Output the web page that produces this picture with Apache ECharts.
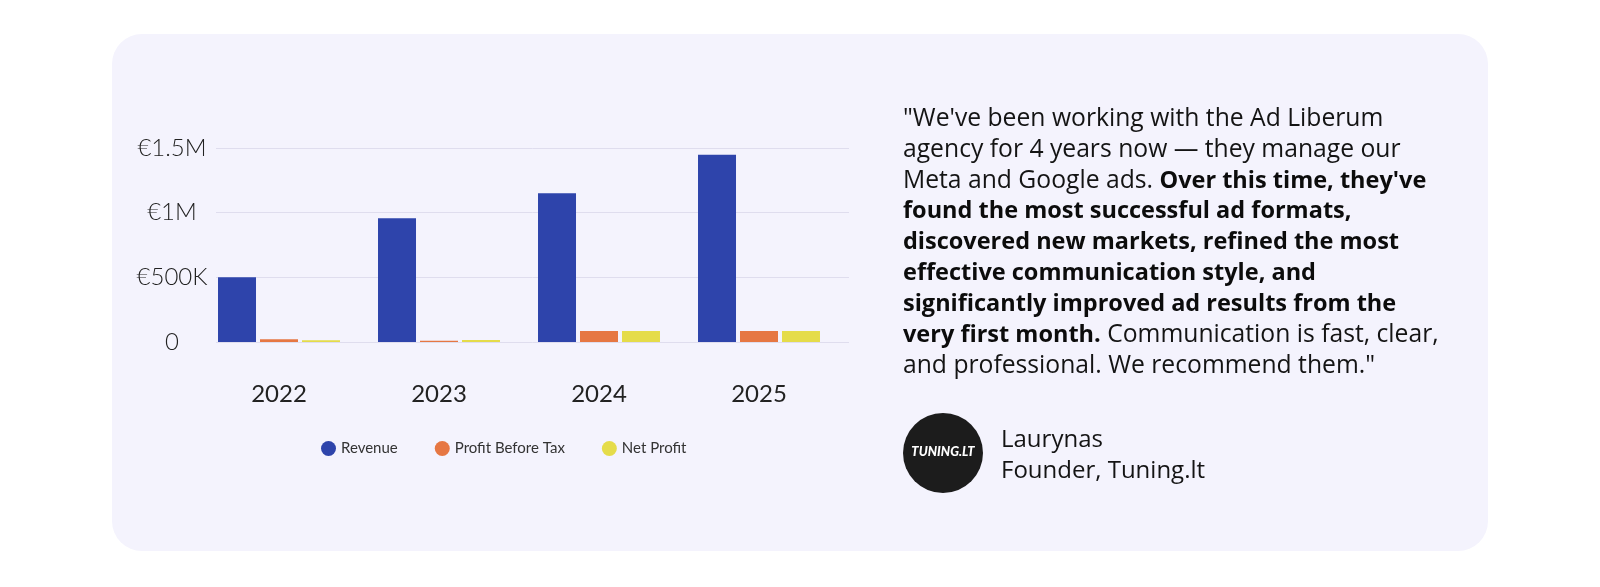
<!DOCTYPE html>
<html>
<head>
<meta charset="utf-8">
<script src="https://cdn.jsdelivr.net/npm/echarts@6/dist/echarts.min.js"></script>
<style>
  html, body { margin: 0; padding: 0; background: #ffffff; }
  #chart { width: 1600px; height: 587px; }
</style>
</head>
<body>
<div id="chart"></div>
<script>
const categories = ['2022', '2023', '2024', '2025'];
const revenue = [500000, 957000, 1150000, 1448000];
const profitBeforeTax = [21000, 9000, 85000, 85000];
const netProfit = [13000, 15000, 85000, 85000];
const seriesNames = ['Revenue', 'Profit Before Tax', 'Net Profit'];
const seriesColors = ['#2E44AB', '#E67743', '#E5DC4A'];
const yTickValues = [0, 500000, 1000000, 1500000];
const yTickLabels = ['0', '€500K', '€1M', '€1.5M'];

const quoteLines = [
  [['n', '"We\'ve been working with the Ad Liberum']],
  [['n', 'agency for 4 years now — they manage our']],
  [['n', 'Meta and Google ads. '], ['b', 'Over this time, they\'ve']],
  [['b', 'found the most successful ad formats,']],
  [['b', 'discovered new markets, refined the most']],
  [['b', 'effective communication style, and']],
  [['b', 'significantly improved ad results from the']],
  [['b', 'very first month.'], ['n', ' Communication is fast, clear,']],
  [['n', 'and professional. We recommend them."']]
];
const authorName = 'Laurynas';
const authorRole = 'Founder, Tuning.lt';
const logoText = 'TUNING.LT';

const FONT = 'Lato, "Noto Sans", sans-serif';
const QFONT = '"Open Sans", Lato, sans-serif';

const quoteText = quoteLines.map(line =>
  line.map(([k, t]) => '{' + k + '|' + t.replace(/[{}|]/g, '') + '}').join('')
).join('\n');

const chart = echarts.init(document.getElementById('chart'), null, { renderer: 'canvas' });

const axisMin = 0, axisMax = 1500000, axisInterval = 500000;

chart.setOption({
  animation: false,
  textStyle: { fontFamily: FONT },
  graphic: [
    { type: 'rect', z: -100, shape: { x: 112, y: 34, width: 1376, height: 517, r: 30 },
      style: { fill: '#F4F3FD' }, silent: true },
    { type: 'text', x: 903, y: 104, z: 10,
      style: {
        text: quoteText,
        rich: {
          n: { fontFamily: QFONT, fontSize: 24.7, fontWeight: 400, fill: '#141414', lineHeight: 30.8 },
          b: { fontFamily: QFONT, fontSize: 23.5, fontWeight: 700, fill: '#0c0c0c', lineHeight: 30.8 }
        },
        verticalAlign: 'top', align: 'left'
      } },
    { type: 'circle', shape: { cx: 943, cy: 453, r: 40 }, style: { fill: '#1c1c1c' }, z: 10 },
    { type: 'text', x: 943, y: 452, z: 11,
      style: { text: logoText, fill: '#ffffff', font: 'italic 900 13px ' + FONT, align: 'center', verticalAlign: 'middle' } },
    { type: 'text', x: 1001, y: 440, z: 10,
      style: { text: authorName, fill: '#141414', font: '400 24px ' + QFONT, align: 'left', verticalAlign: 'middle' } },
    { type: 'text', x: 1001, y: 471, z: 10,
      style: { text: authorRole, fill: '#141414', font: '400 24px ' + QFONT, align: 'left', verticalAlign: 'middle' } }
  ],
  legend: {
    data: seriesNames,
    left: 316, top: 436,
    icon: 'circle', itemWidth: 15, itemHeight: 15, itemGap: 37,
    textStyle: { fontSize: 15, color: '#333333', fontFamily: FONT }
  },
  grid: [
    { left: 199, top: 148, width: 640, height: 194 },
    { left: 216, top: 148, width: 633, height: 194 }
  ],
  xAxis: [
    { type: 'category', gridIndex: 0, data: categories,
      axisLine: { show: false }, axisTick: { show: false },
      axisLabel: { margin: 40, fontSize: 24, color: '#222222', fontFamily: FONT } },
    { type: 'category', gridIndex: 1, data: categories, show: false }
  ],
  yAxis: [
    { type: 'value', gridIndex: 0, min: axisMin, max: axisMax, interval: axisInterval, show: false, splitLine: { show: false } },
    { type: 'value', gridIndex: 1, min: axisMin, max: axisMax, interval: axisInterval,
      axisLine: { show: false }, axisTick: { show: false },
      splitLine: { show: true, lineStyle: { color: '#DFDDEE', width: 1 } },
      axisLabel: { margin: 44, align: 'center', fontSize: 24, fontWeight: 300, color: '#222222', fontFamily: FONT,
        formatter: v => { const i = yTickValues.indexOf(v); return i >= 0 ? yTickLabels[i] : ''; } } }
  ],
  series: [
    { name: seriesNames[0], type: 'bar', xAxisIndex: 0, yAxisIndex: 0, data: revenue,
      barWidth: 38, barGap: '10.5%', itemStyle: { color: seriesColors[0] } },
    { name: seriesNames[1], type: 'bar', xAxisIndex: 0, yAxisIndex: 0, data: profitBeforeTax,
      barWidth: 38, barGap: '10.5%', itemStyle: { color: seriesColors[1] } },
    { name: seriesNames[2], type: 'bar', xAxisIndex: 0, yAxisIndex: 0, data: netProfit,
      barWidth: 38, barGap: '10.5%', itemStyle: { color: seriesColors[2] } }
  ]
});
</script>
</body>
</html>
